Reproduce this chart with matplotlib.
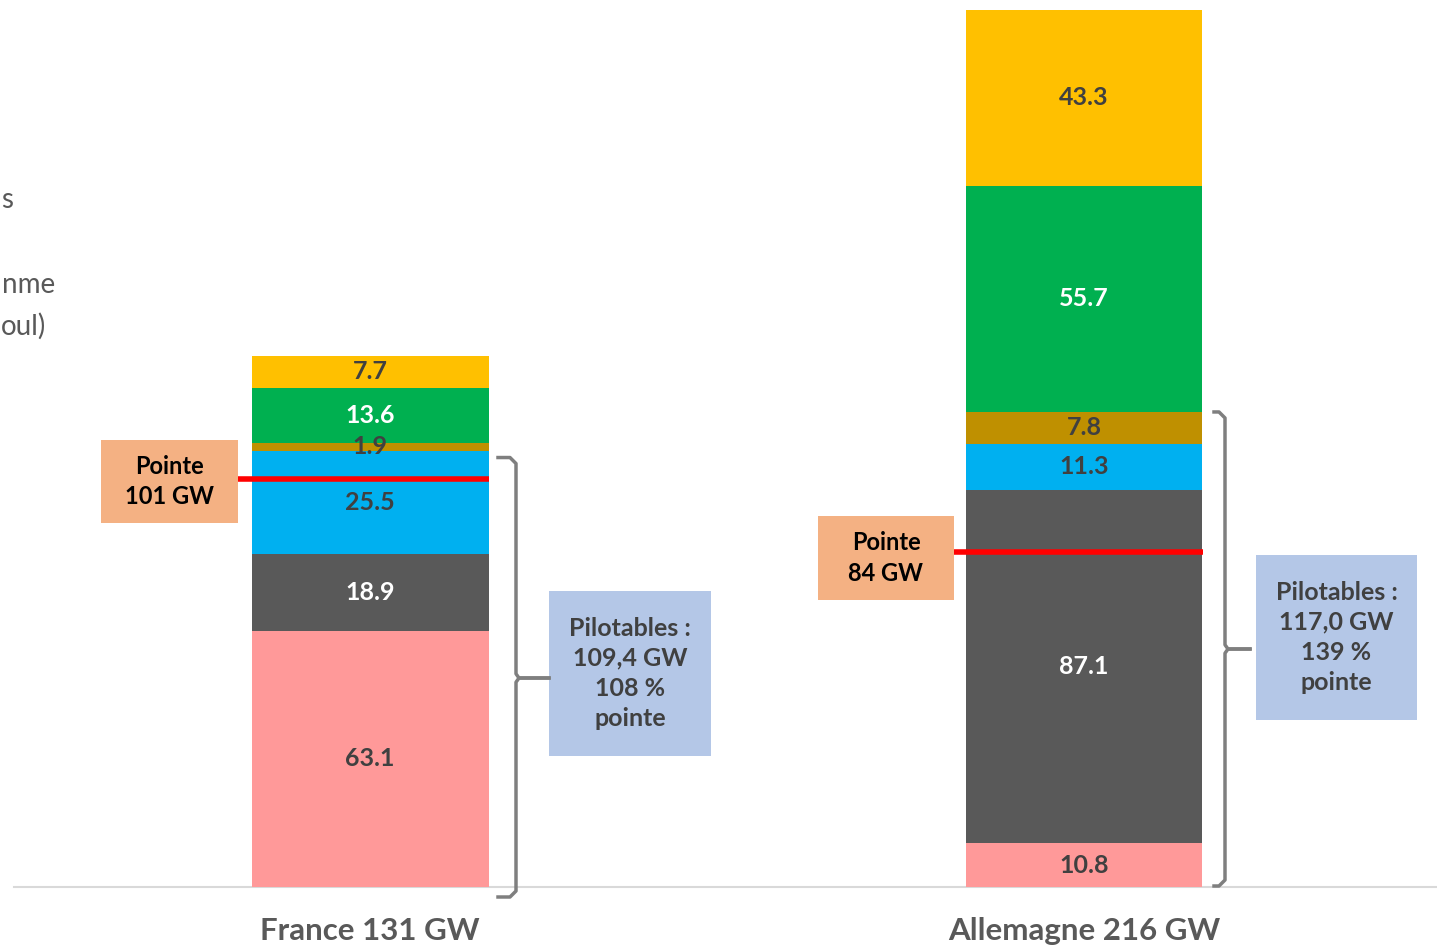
import matplotlib
matplotlib.use("Agg")
import matplotlib.pyplot as plt
from matplotlib.patches import Rectangle
import numpy as np

# ---------------- data ----------------
countries = ["France 131 GW", "Allemagne 216 GW"]
segment_colors = ["#ff9999", "#595959", "#00b0f0", "#bf9000", "#00b050", "#ffc000"]
label_colors = ["#404040", "#ffffff", "#404040", "#404040", "#ffffff", "#404040"]
france = [63.1, 18.9, 25.5, 1.9, 13.6, 7.7]
allemagne = [10.8, 87.1, 11.3, 7.8, 55.7, 43.3]
pointe_level = [100.5, 82.5]   # where the red line is drawn
pilotables_text = ["Pilotables :\n109,4 GW\n108 %\npointe",
                   "Pilotables :\n117,0 GW\n139 %\npointe"]
pointe_text = ["Pointe\n101 GW", "Pointe\n84 GW"]
n_pilotables = 4  # first four segments are dispatchable

W, H = 1437, 948
FONT = ["Lato", "DejaVu Sans"]
fig = plt.figure(figsize=(W / 100, H / 100), dpi=100)
ax = fig.add_axes([0, 0, 1, 1])

# axes scaling (pixel layout)
x_centers_px = [370, 1084]
ppu_x = x_centers_px[1] - x_centers_px[0]
xlim = (-x_centers_px[0] / ppu_x, (W - x_centers_px[0]) / ppu_x)
base_px = 887
ppu_y = 877 / 216.0
ylim = (-(H - base_px) / ppu_y, base_px / ppu_y)
ax.set_xlim(*xlim)
ax.set_ylim(*ylim)
ax.axis("off")

def px2x(p):
    return xlim[0] + p / ppu_x

def px2y(p):
    return (base_px - p) / ppu_y

bar_w = 237 / ppu_x
x = np.arange(len(countries))
data = [france, allemagne]

for i, vals in enumerate(data):
    bottom = 0
    for j, v in enumerate(vals):
        ax.bar(x[i], v, bottom=bottom, width=bar_w, color=segment_colors[j],
               edgecolor="none", zorder=2)
        ax.text(x[i], bottom + v / 2, f"{v}", ha="center", va="center",
                color=label_colors[j], fontsize=18, family=FONT,
                fontweight="bold", zorder=4)
        bottom += v

# baseline
ax.plot([px2x(14), px2x(W)], [0, 0], color="#d9d9d9", lw=1.5, zorder=1)

# category labels
for i, c in enumerate(countries):
    ax.text(x[i], px2y(931), c, ha="center", va="center", color="#595959",
            fontsize=22.5, family=FONT, fontweight="bold")

# pointe boxes + red lines
pbox = [(101, 440, 238, 523), (818, 516, 954, 600)]
for i in range(2):
    l, t, r, b = pbox[i]
    ax.add_patch(Rectangle((px2x(l), px2y(b)), (r - l) / ppu_x, (b - t) / ppu_y,
                           facecolor="#f4b183", edgecolor="none", zorder=3))
    ax.text(px2x((l + r) / 2), px2y((t + b) / 2), pointe_text[i], ha="center",
            va="center", color="#000000", fontsize=17, family=FONT,
            fontweight="bold", linespacing=1.42, zorder=4)
    ax.plot([px2x(r), x[i] + bar_w / 2], [pointe_level[i], pointe_level[i]],
            color="#ff0000", lw=4, zorder=5, solid_capstyle="butt")

# pilotables boxes
qbox = [(549, 591, 711, 756), (1256, 555, 1417, 720)]
for i in range(2):
    l, t, r, b = qbox[i]
    ax.add_patch(Rectangle((px2x(l), px2y(b)), (r - l) / ppu_x, (b - t) / ppu_y,
                           facecolor="#b4c7e7", edgecolor="none", zorder=3))
    ax.text(px2x((l + r) / 2), px2y((t + b) / 2), pilotables_text[i], ha="center",
            va="center", color="#404040", fontsize=18, family=FONT,
            fontweight="bold", linespacing=1.38, zorder=4)

# braces
def brace(x_left, x_right, x_tip, y_top, y_bot, y_mid):
    r = 6
    xs = [x_left, x_right - r, x_right, x_right, x_right + r * 0.5, x_tip]
    ys = [y_top, y_top, y_top + r, y_mid - r * 0.7, y_mid, y_mid]
    xs2 = [x_tip, x_right + r * 0.5, x_right, x_right, x_right - r, x_left]
    ys2 = [y_mid, y_mid, y_mid + r * 0.7, y_bot - r, y_bot, y_bot]
    ax.plot([px2x(v) for v in xs], [px2y(v) for v in ys], color="#7f7f7f",
            lw=2.5, zorder=3, solid_joinstyle="round")
    ax.plot([px2x(v) for v in xs2], [px2y(v) for v in ys2], color="#7f7f7f",
            lw=2.5, zorder=3, solid_joinstyle="round")

top_fr = base_px - sum(france[:n_pilotables - 1]) * ppu_y + 7
top_de = base_px - sum(allemagne[:n_pilotables]) * ppu_y
brace(498, 516, 549, top_fr, 897, 678)
brace(1214, 1225, 1250, top_de, 886, 649)

# cut-off legend text at left edge
for txt, xr, yc in [("s", 13, 200), ("nme", 55, 285), ("oul)", 46, 326)]:
    ax.text(px2x(xr), px2y(yc), txt, ha="right", va="center", color="#595959",
            fontsize=20, family=FONT)

fig.savefig("out.png", dpi=100)
